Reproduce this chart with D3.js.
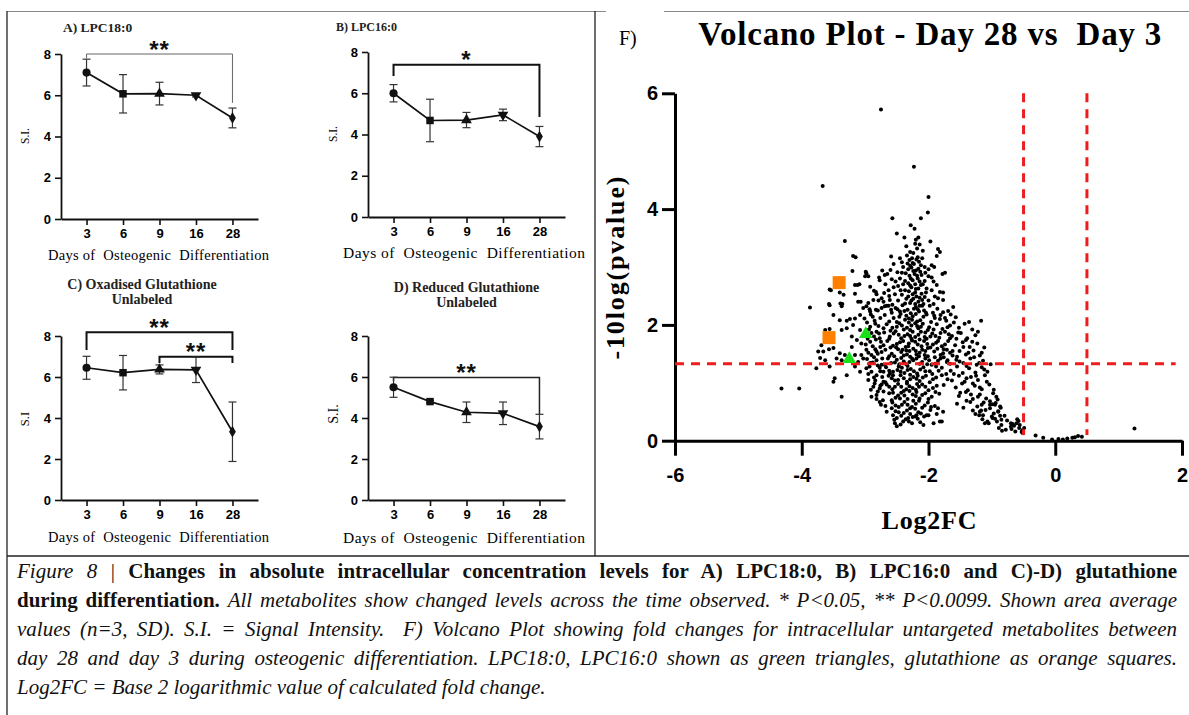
<!DOCTYPE html>
<html>
<head>
<meta charset="UTF-8">
<title>Figure 8</title>
<script src="https://cdnjs.cloudflare.com/ajax/libs/d3/7.8.5/d3.min.js"></script>
<style>
  body { margin: 0; background: #fff; }
  #wrap { position: relative; width: 1189px; height: 715px; overflow: hidden; }
  #chart svg { position: absolute; left: 0; top: 0; }
  .tick text { font-family: "Liberation Sans", Arial, sans-serif; font-weight: bold; fill: #000; }
  .serif { font-family: "Liberation Serif", "Times New Roman", serif; }
  #caption {
    position: absolute; left: 17px; top: 557px; width: 1160px;
    font-family: "Liberation Serif", "Times New Roman", serif;
    font-size: 21px; line-height: 29px; color: #111;
  }
  #caption div { text-align: justify; text-align-last: justify; }
  #caption div.last { text-align-last: left; }
</style>
</head>
<body>
<div id="wrap">
  <div id="chart"></div>
  <div id="caption">
    <div><i>Figure 8</i> | <b>Changes in absolute intracellular concentration levels for A) LPC18:0, B) LPC16:0 and C)-D) glutathione</b></div>
    <div><b>during differentiation.</b> <i>All metabolites show changed levels across the time observed. * P&lt;0.05, ** P&lt;0.0099. Shown area average</i></div>
    <div><i>values (n=3, SD). S.I. = Signal Intensity.&nbsp; F) Volcano Plot showing fold changes for intracellular untargeted metabolites between</i></div>
    <div><i>day 28 and day 3 during osteogenic differentiation. LPC18:0, LPC16:0 shown as green triangles, glutathione as orange squares.</i></div>
    <div class="last"><i>Log2FC = Base 2 logarithmic value of calculated fold change.</i></div>
  </div>
</div>

<script>
// ---- time course data (mean and SD, n=3) ----
var days = ["3", "6", "9", "16", "28"];
var siTicks = [0, 2, 4, 6, 8];

var lpc18Mean = [7.1, 6.07, 6.08, 6.0, 4.9];
var lpc18Sd   = [0.65, 0.93, 0.55, 0.08, 0.48];
var lpc16Mean = [6.0, 4.68, 4.7, 4.95, 3.9];
var lpc16Sd   = [0.42, 1.03, 0.37, 0.28, 0.49];
var gssgMean  = [6.45, 6.21, 6.37, 6.35, 3.33];
var gssgSd    = [0.56, 0.84, 0.22, 0.62, 1.45];
var gshMean   = [5.5, 4.8, 4.28, 4.23, 3.58];
var gshSd     = [0.49, 0.06, 0.5, 0.55, 0.6];

// ---- volcano data: [log2FC, -log10(p)] ----
var lpcPoints = [[-2.99, 1.84], [-3.25, 1.41]];
var glutathionePoints = [[-3.41, 2.73], [-3.57, 1.78]];
var volcanoTicksX = [-6, -4, -2, 0, 2];
var volcanoTicksY = [0, 2, 4, 6];
var fcCutoffs = [-0.5, 0.5];
var pCutoff = 1.33;

var volcanoPoints = [
  // upper part of the cloud
  [-2.75,5.72],[-2.23,4.73],[-3.67,4.40],[-2.00,4.21],[-2.01,3.94],[-2.57,3.84],[-2.12,3.84],[-2.28,3.72],[-2.22,3.66],[-3.32,3.45],
  [-2.50,3.58],[-2.38,3.51],[-2.16,3.51],[-2.20,3.47],[-1.97,3.44],[-2.21,3.40],[-2.14,3.39],[-2.35,3.36],[-2.18,3.32],[-1.85,3.31],
  [-1.82,3.26],[-2.09,3.28],[-2.29,3.26],[-2.24,3.24],[-2.59,3.18],[-1.87,3.19],[-2.17,3.17],[-3.19,3.19],[-3.15,3.17],[-2.30,3.12],
  [-2.42,3.08],[-2.33,3.06],[-2.25,3.07],[-2.15,3.09],[-1.95,3.03],[-2.06,3.00],[-1.91,3.00],[-2.27,2.99],[-2.16,2.97],[-2.32,2.96],
  [-2.20,2.94],[-2.00,2.96],[-2.49,2.91],[-2.42,2.90],[-2.36,2.89],[-2.65,2.88],[-1.74,2.90],[-1.78,2.88],[-2.22,2.88],[-2.11,2.86],
  [-2.00,2.84],[-1.95,2.82],[-2.28,2.80],[-2.17,2.80],[-2.58,2.79],[-2.37,2.76],[-2.06,2.76],[-1.92,2.75],[-2.32,2.72],[-2.21,2.70],
  [-2.12,2.69],[-1.87,2.69],[-2.48,2.67],[-2.27,2.65],[-2.16,2.63],[-2.03,2.63],[-2.63,2.60],[-2.37,2.60],[-1.95,2.60],[-1.82,2.57],
  [-1.77,2.56],[-2.21,2.56],[-2.11,2.54],[-2.53,2.53],[-2.42,2.52],[-2.32,2.49],[-2.19,2.49],[-2.06,2.48],[-1.90,2.49],[-1.85,2.46],
  [-2.61,2.43],[-2.48,2.42],[-2.27,2.42],[-2.16,2.40],[-2.00,2.42],[-1.77,2.43],[-2.37,2.37],[-2.21,2.36],[-2.08,2.36],[-1.92,2.36],
  [-2.26,3.15],[-2.19,3.13],[-2.23,3.05],[-2.12,3.03],[-2.29,3.02],[-2.24,2.93],[-2.13,2.92],[-2.30,2.85],[-2.18,2.85],[-2.25,2.77],
  [-2.14,2.75],[-2.29,2.68],[-2.20,2.62],[-2.31,2.58],[-2.25,2.53],[-2.14,2.47],[-2.35,2.45],[-2.24,2.45],[-2.10,2.43],[-2.29,2.38],
  [-2.14,2.33],[-2.44,2.60],[-2.09,2.70],[-2.04,2.56],[-2.40,2.70],[-2.45,2.80],[-2.05,2.90],[-2.10,3.15],[-2.34,3.20],[-2.40,3.00],
  [-3.20,2.93],[-2.99,2.92],[-3.00,2.84],[-2.95,2.84],[-2.73,2.94],[-2.78,2.82],[-2.77,2.77],[-2.69,2.86],[-3.54,2.60],[-3.40,2.56],
  [-3.34,2.52],[-3.16,2.69],[-3.09,2.70],[-3.16,2.54],[-2.92,2.66],[-2.86,2.59],[-2.82,2.53],[-3.57,2.36],[-3.36,2.36],[-3.11,2.40],
  [-3.07,2.40],[-2.95,2.38],[-2.87,2.43],[-2.79,2.42],[-2.74,2.46],[-2.68,2.70],[-2.62,2.50],[-2.55,2.65],[-2.70,2.55],[-2.57,2.35],
  [-2.66,2.33],[-2.52,2.75],[-2.60,2.95],[-2.55,3.05],[-2.45,3.15],[-3.56,2.61],[-3.39,2.37],[-3.12,2.69],[-2.98,2.89],[-2.83,2.57],
  [-2.71,2.40],
  // left wing
  [-3.87,2.30],[-3.56,2.34],[-3.37,2.32],[-3.50,2.17],[-3.40,2.08],[-3.29,2.07],[-3.24,2.10],[-3.16,2.11],[-3.08,2.17],[-3.03,2.29],
  [-2.98,2.32],[-2.92,2.23],[-2.83,2.26],[-2.74,2.29],[-2.69,2.32],[-3.19,2.00],[-3.29,1.94],[-3.08,1.91],[-2.92,1.97],[-2.82,1.88],
  [-2.71,1.94],[-3.63,1.91],[-3.56,1.93],[-3.37,1.91],[-3.21,1.80],[-3.13,1.74],[-3.06,1.68],[-3.21,1.62],[-2.92,1.71],[-2.77,1.77],
  [-2.71,1.65],[-3.69,1.65],[-3.57,1.58],[-3.74,1.54],[-3.66,1.54],[-3.50,1.60],[-3.40,1.51],[-3.32,1.48],[-3.16,1.48],[-3.06,1.48],
  [-2.98,1.57],[-2.90,1.48],[-2.82,1.54],[-3.71,1.43],[-3.63,1.39],[-3.45,1.42],[-3.37,1.39],[-3.11,1.36],[-3.03,1.42],[-2.92,1.34],
  [-2.82,1.39],[-2.74,1.31],[-3.77,1.25],[-3.56,1.28],[-3.16,1.28],[-3.08,1.19],[-2.98,1.25],[-2.90,1.19],[-2.82,1.13],[-2.71,1.19],
  [-3.48,1.08],[-3.50,1.02],[-3.29,1.13],[-2.95,1.05],[-2.85,0.99],[-2.71,1.02],[-4.32,0.90],[-4.04,0.90],[-2.87,0.93],[-2.77,0.90],
  [-3.37,0.76],[-2.82,0.79],[-2.71,0.85],[-2.77,0.67],[-2.90,0.76],
  [-2.80,2.25],[-2.93,2.27],[-2.76,2.12],[-2.88,2.14],[-3.01,2.11],[-2.84,2.02],[-2.97,2.04],[-2.78,1.85],[-2.90,1.86],[-3.02,1.83],
  [-2.83,1.75],[-2.96,1.76],[-2.76,1.62],[-2.88,1.63],[-2.80,1.50],[-2.95,1.52],[-2.73,1.42],[-2.86,1.44],[-2.80,1.30],[-2.93,1.28],
  [-2.76,1.20],[-2.73,1.10],[-2.86,1.09],[-2.76,0.95],[-2.80,0.85],[-2.72,0.70],[-2.68,0.60],[-2.66,0.50],
  [-2.91,2.18],[-2.85,2.07],[-2.79,1.98],[-2.94,1.92],[-2.86,1.80],[-2.75,1.71],[-2.99,1.66],[-2.84,1.58],[-2.74,1.53],[-2.97,1.41],
  [-2.88,1.35],[-2.77,1.26],[-2.95,1.15],[-2.84,1.04],[-2.74,0.97],[-2.91,0.88],[-2.82,0.72],[-2.75,0.62],
  // main body
  [-2.63,2.33],[-2.49,2.27],[-2.41,2.34],[-2.33,2.26],[-2.20,2.31],[-2.07,2.25],[-1.98,2.33],[-1.86,2.28],[-1.69,2.24],[-1.61,2.31],
  [-2.58,2.21],[-2.28,2.20],[-2.15,2.23],[-1.93,2.21],[-1.77,2.22],
  [-2.69,2.17],[-2.55,2.12],[-2.44,2.19],[-2.37,2.09],[-2.25,2.15],[-2.13,2.08],[-2.03,2.18],[-1.90,2.12],[-1.81,2.17],[-1.72,2.07],
  [-1.57,2.13],[-2.62,2.06],[-2.50,2.05],[-2.18,2.06],[-1.96,2.05],[-1.65,2.18],
  [-2.66,2.01],[-2.57,1.95],[-2.46,2.03],[-2.39,1.92],[-2.27,1.99],[-2.16,1.94],[-2.09,2.02],[-1.99,1.96],[-1.87,2.01],[-1.78,1.93],
  [-1.66,1.99],[-1.52,1.95],[-1.43,2.02],[-1.31,1.92],[-1.17,2.07],[-2.31,2.04],[-2.01,1.91],[-1.60,2.04],
  [-2.70,1.87],[-2.61,1.80],[-2.52,1.89],[-2.43,1.77],[-2.33,1.84],[-2.21,1.79],[-2.12,1.88],[-2.03,1.76],[-1.94,1.85],[-1.83,1.78],
  [-1.74,1.88],[-1.63,1.81],[-1.49,1.86],[-1.39,1.77],[-1.26,1.82],[-2.47,1.83],[-2.27,1.76],[-1.89,1.81],[-1.56,1.76],
  [-2.65,1.72],[-2.56,1.64],[-2.45,1.70],[-2.36,1.62],[-2.26,1.73],[-2.17,1.66],[-2.07,1.72],[-1.97,1.61],[-1.88,1.69],[-1.79,1.63],
  [-1.69,1.72],[-1.58,1.65],[-1.46,1.70],[-1.35,1.62],[-1.23,1.68],[-1.12,1.61],[-2.51,1.61],[-2.11,1.63],[-1.74,1.66],[-1.41,1.74],
  [-2.68,1.57],[-2.58,1.50],[-2.48,1.58],[-2.39,1.47],[-2.30,1.55],[-2.19,1.49],[-2.10,1.57],[-2.01,1.46],[-1.91,1.54],[-1.81,1.48],
  [-1.71,1.57],[-1.62,1.47],[-1.51,1.55],[-1.41,1.49],[-1.29,1.56],[-1.19,1.47],[-2.62,1.46],[-2.24,1.59],[-1.86,1.59],[-1.55,1.45],
  [-2.64,1.42],[-2.53,1.35],[-2.43,1.43],[-2.35,1.32],[-2.24,1.39],[-2.14,1.33],[-2.05,1.42],[-1.95,1.31],[-1.85,1.38],[-1.76,1.44],
  [-1.66,1.33],[-1.56,1.40],[-1.45,1.34],[-1.34,1.42],[-1.24,1.31],[-1.14,1.38],[-1.02,1.32],[-2.69,1.31],[-2.29,1.45],[-1.90,1.44],
  [-2.67,1.27],[-2.56,1.19],[-2.47,1.28],[-2.38,1.17],[-2.28,1.24],[-2.18,1.16],[-2.08,1.27],[-1.98,1.20],[-1.88,1.28],[-1.65,1.21],
  [-1.55,1.28],[-1.46,1.17],[-1.36,1.25],[-1.26,1.18],[-1.16,1.27],[-1.07,1.19],[-2.61,1.16],[-2.33,1.29],[-1.94,1.15],
  [-2.63,1.12],[-2.53,1.04],[-2.44,1.13],[-2.34,1.02],[-2.24,1.10],[-2.14,1.03],[-2.04,1.12],[-1.93,1.06],[-1.79,1.13],[-1.63,1.04],
  [-1.52,1.12],[-1.43,1.02],[-1.33,1.10],[-1.22,1.05],[-1.11,1.13],[-2.68,1.01],[-2.29,1.14],[-1.98,1.01],
  [-2.66,0.97],[-2.57,0.89],[-2.48,0.98],[-2.39,0.86],[-2.30,0.94],[-2.20,0.88],[-2.10,0.97],[-2.00,0.87],[-1.87,0.95],[-1.57,0.92],
  [-1.47,0.99],[-1.38,0.87],[-1.27,0.95],[-1.16,0.89],[-1.04,0.97],[-0.97,0.88],[-2.43,0.93],[-2.15,0.93],
  [-2.62,0.82],[-2.52,0.74],[-2.43,0.83],[-2.33,0.72],[-2.25,0.80],[-2.14,0.73],[-2.05,0.82],[-1.95,0.76],[-1.83,0.81],[-1.52,0.77],
  [-1.41,0.84],[-1.30,0.72],[-1.19,0.80],[-1.09,0.73],[-0.98,0.82],[-0.91,0.71],[-2.58,0.70],[-2.38,0.78],[-2.19,0.84],
  [-2.57,0.66],[-2.47,0.58],[-2.38,0.67],[-2.29,0.56],[-2.20,0.64],[-2.10,0.57],[-2.01,0.66],[-1.90,0.60],[-1.55,0.64],[-1.45,0.57],
  [-1.34,0.67],[-1.23,0.59],[-1.13,0.66],[-1.03,0.56],[-0.94,0.65],[-0.86,0.57],[-2.33,0.62],[-2.15,0.69],
  [-2.52,0.51],[-2.43,0.43],[-2.34,0.52],[-2.25,0.41],[-2.16,0.49],[-2.07,0.42],[-1.97,0.53],[-1.87,0.46],[-1.30,0.52],[-1.20,0.44],
  [-1.10,0.53],[-1.00,0.42],[-0.90,0.50],[-0.80,0.43],[-2.29,0.46],
  [-2.54,0.36],[-2.44,0.28],[-2.36,0.37],[-2.26,0.30],[-2.17,0.38],[-2.08,0.27],[-1.15,0.37],[-1.05,0.30],[-0.95,0.38],[-0.85,0.27],
  [-0.76,0.35],[-0.67,0.29],[-0.60,0.37],[-2.50,0.25],
  [-0.89,0.22],[-0.78,0.19],[-0.70,0.24],[-0.63,0.16],[-0.57,0.22],[-0.51,0.13],
  // denser core and lower blob
  [-2.52,2.29],[-2.38,2.24],[-2.23,2.28],[-2.10,2.33],[-2.46,2.14],[-2.31,2.11],[-2.20,2.19],[-2.08,2.14],[-2.42,1.99],[-2.34,1.95],
  [-2.21,2.03],[-2.12,1.97],[-2.55,1.85],[-2.38,1.81],[-2.25,1.88],[-2.16,1.83],[-2.06,1.79],[-2.50,1.67],[-2.31,1.68],[-2.21,1.71],
  [-2.02,1.67],[-2.43,1.53],[-2.35,1.56],[-2.14,1.52],[-2.05,1.55],[-2.50,1.40],[-2.39,1.37],[-2.19,1.42],[-2.10,1.36],[-1.99,1.39],
  [-2.49,1.22],[-2.42,1.26],[-2.23,1.20],[-2.13,1.23],[-2.58,1.08],[-2.39,1.08],[-2.19,1.07],[-2.09,1.09],[-2.53,0.93],[-2.34,0.99],
  [-2.25,0.91],[-2.05,0.93],[-2.48,0.78],[-2.30,0.86],[-2.10,0.79],[-2.00,0.72],[-2.42,0.62],[-2.24,0.69],[-2.06,0.61],[-2.39,0.48],
  [-2.21,0.55],[-2.12,0.47],[-2.31,0.33],[-2.21,0.42],
  [-2.59,2.26],[-2.45,2.23],[-2.35,2.16],[-2.26,2.09],[-2.17,2.27],[-2.04,2.21],[-1.91,2.16],[-1.74,2.12],[-2.60,1.90],[-2.50,1.97],
  [-2.29,1.91],[-2.18,1.98],[-2.05,1.87],[-1.92,1.92],[-1.81,1.86],[-2.62,1.76],[-2.40,1.72],[-2.29,1.81],[-2.14,1.75],[-1.97,1.80],
  [-1.85,1.72],[-1.66,1.77],[-2.60,1.61],[-2.41,1.57],[-2.32,1.63],[-2.20,1.55],[-2.01,1.60],[-1.93,1.66],[-1.76,1.58],[-1.66,1.52],
  [-2.54,1.46],[-2.34,1.49],[-2.26,1.42],[-2.15,1.46],[-2.06,1.48],[-1.81,1.42],[-1.70,1.39],[-2.59,1.34],[-2.46,1.32],[-2.30,1.36],
  [-2.02,1.32],[-1.89,1.33],[-1.79,1.26],[-2.62,1.21],[-2.44,1.19],[-2.33,1.22],[-2.05,1.20],[-1.84,1.21],[-1.72,1.15],[-2.56,1.13],
  [-2.48,1.05],[-2.29,1.06],[-2.17,1.12],[-1.88,1.09],[-1.70,1.06],[-2.62,0.93],[-2.35,0.89],[-2.18,0.98],[-1.93,0.91],[-1.76,0.96],
  [-2.56,0.83],[-2.45,0.73],[-2.20,0.77],[-1.89,0.84],[-2.52,0.61],[-2.26,0.58],[-1.96,0.58],[-2.47,0.49],[-2.19,0.44],[-2.40,0.33],
  [-2.13,0.32],
  [-1.82,2.10],[-1.70,1.96],[-1.53,1.87],[-1.68,1.84],[-1.45,1.62],[-1.62,1.55],[-1.37,1.52],[-1.77,1.51],[-1.51,1.37],[-1.71,1.36],
  [-1.40,1.29],[-1.60,1.15],[-1.40,1.08],[-1.30,0.99],[-1.50,0.83],[-1.22,0.76],[-1.40,0.69],[-1.17,0.52],[-0.97,0.47],
  [-1.36,2.05],[-1.22,1.88],[-1.31,1.71],[-1.16,1.52],[-1.28,1.44],[-1.20,1.34],[-1.12,1.23],[-1.25,1.12],[-1.08,1.02],[-1.19,0.92],
  [-1.33,0.80],[-1.03,0.68],[-1.16,0.62],[-1.26,0.46],[-0.92,0.33],
  [-1.85,0.56],[-1.77,0.50],[-1.92,0.30],[-1.82,0.33],[-2.00,0.44],[-2.53,0.30],[-2.56,0.44],[-2.58,0.56],[-2.50,0.39],[-2.32,0.39],
  [-2.03,0.44],[-1.79,0.33],
  // tail towards zero
  [-0.52,0.18],[-0.49,0.22],[-0.58,0.34],[-0.61,0.30],[-0.65,0.26],[-0.70,0.30],[-0.69,0.20],[-0.84,0.17],[-0.85,0.36],[-0.87,0.43],
  [-0.90,0.51],[-0.87,0.59],[-0.93,0.76],[-0.99,0.63],[-1.03,0.62],[-0.95,0.62],[-0.99,0.39],[-1.07,0.33],[-1.11,0.30],[-1.14,0.44],
  [-1.19,0.50],[-0.53,0.15],[-0.56,0.27],
  [-0.31,0.09],[-0.19,0.05],[-0.05,0.02],[0.05,0.03],[0.12,0.02],[0.19,0.04],[0.27,0.05],[0.31,0.06],[0.36,0.08],[0.42,0.07],[1.25,0.21]
];

var svg = d3.select("#chart").append("svg")
    .attr("width", 1189)
    .attr("height", 715);

// frame lines round the figure
var frame = svg.append("g").attr("fill", "none");
frame.append("line").attr("x1", 7).attr("y1", 11.5).attr("x2", 606).attr("y2", 11.5).attr("stroke", "#8a8a8a").attr("stroke-width", 1.2);
frame.append("line").attr("x1", 664).attr("y1", 11.5).attr("x2", 1189).attr("y2", 11.5).attr("stroke", "#8a8a8a").attr("stroke-width", 1.2);
frame.append("line").attr("x1", 7).attr("y1", 11).attr("x2", 7).attr("y2", 715).attr("stroke", "#222").attr("stroke-width", 1.3);
frame.append("line").attr("x1", 595).attr("y1", 11).attr("x2", 595).attr("y2", 556).attr("stroke", "#222").attr("stroke-width", 1.3);
frame.append("line").attr("x1", 7).attr("y1", 556).attr("x2", 1189).attr("y2", 556).attr("stroke", "#222").attr("stroke-width", 1.3);

// ---------- small time-course panels ----------
var markerTypes = [d3.symbolCircle, d3.symbolSquare, d3.symbolTriangle, d3.symbolTriangle, d3.symbolDiamond];
var markerSizes = [52, 56, 50, 50, 40];
var markerRotate = [0, 0, 0, 180, 0];

var panels = [
    {mean: lpc18Mean, sd: lpc18Sd, x0: 61, x1: 258, yTop: 54, yBot: 219,
     title: ["A) LPC18:0"], titleX: 63, titleY: 31.5, titleAnchor: "start", titleSize: 13.5,
     si: "S.I.", siX: 25, siY: 136, siSize: 11.5, xTitleX: 158.5, xTitleY: 255, xTitleLen: 221, xTitleSize: 14.5,
     brackets: [{from: "3", to: "28", level: 8, left: 7.8, right: 5.63, label: "**", width: 1, color: "#666"}]},
    {mean: lpc16Mean, sd: lpc16Sd, x0: 368, x1: 565, yTop: 52, yBot: 217,
     title: ["B) LPC16:0"], titleX: 336, titleY: 30.5, titleAnchor: "start", titleSize: 12,
     si: "S.I.", siX: 333, siY: 134, siSize: 11.5, xTitleX: 464, xTitleY: 252, xTitleLen: 242, xTitleSize: 15.5,
     brackets: [{from: "3", to: "28", level: 7.38, left: 6.84, right: 4.85, label: "*", width: 2, color: "#111"}]},
    {mean: gssgMean, sd: gssgSd, x0: 61, x1: 258, yTop: 336, yBot: 500,
     title: ["C) Oxadised Glutathione", "Unlabeled"], titleX: 142, titleY: 289, titleAnchor: "middle", titleSize: 14,
     si: "S.I", siX: 25, siY: 419, siSize: 12.5, xTitleX: 158.5, xTitleY: 537, xTitleLen: 221, xTitleSize: 14.5,
     brackets: [{from: "3", to: "28", level: 8.18, left: 7.32, right: 7.32, label: "**", width: 2, color: "#111"},
                {from: "9", to: "28", level: 6.99, left: 6.68, right: 6.68, label: "**", width: 2, color: "#111"}]},
    {mean: gshMean, sd: gshSd, x0: 368, x1: 565, yTop: 336, yBot: 500,
     title: ["D) Reduced Glutathione", "Unlabeled"], titleX: 466.5, titleY: 291.5, titleAnchor: "middle", titleSize: 14,
     si: "S.I.", siX: 333, siY: 414, siSize: 14, xTitleX: 464, xTitleY: 537, xTitleLen: 242, xTitleSize: 15.5,
     brackets: [{from: "3", to: "28", level: 5.97, left: 5.8, right: 4.2, label: "**", width: 1.5, color: "#222"}]}
];

function drawPanel(p) {
    var x = d3.scalePoint().domain(days).range([p.x0, p.x1]).padding(0.7);
    var y = d3.scaleLinear().domain([0, 8]).range([p.yBot, p.yTop]);
    var g = svg.append("g");

    var xAxis = g.append("g")
        .attr("transform", "translate(0," + p.yBot + ")")
        .call(d3.axisBottom(x).tickSize(6).tickSizeOuter(0).tickPadding(4));
    var yAxis = g.append("g")
        .attr("transform", "translate(" + p.x0 + ",0)")
        .call(d3.axisLeft(y).tickValues(siTicks).tickSize(6).tickSizeOuter(0).tickPadding(4));
    [xAxis, yAxis].forEach(function (a) {
        a.select(".domain").attr("stroke", "#111").attr("stroke-width", 1.8);
        a.selectAll(".tick line").attr("stroke", "#111").attr("stroke-width", 1.6);
        a.selectAll(".tick text").attr("font-size", 13);
    });

    // significance brackets
    p.brackets.forEach(function (b) {
        var xa = x(b.from), xb = x(b.to);
        g.append("path")
            .attr("d", "M" + xa + "," + y(b.left) + "V" + y(b.level) + "H" + xb + "V" + y(b.right))
            .attr("fill", "none")
            .attr("stroke", b.color)
            .attr("stroke-width", b.width);
        g.append("text")
            .attr("x", (xa + xb) / 2)
            .attr("y", y(b.level) - 10 + 13.5)
            .attr("text-anchor", "middle")
            .attr("font-family", "Liberation Sans, Arial, sans-serif")
            .attr("font-weight", "bold")
            .attr("font-size", 24)
            .attr("letter-spacing", 1)
            .attr("fill", "#111")
            .text(b.label);
    });

    // error bars
    var eb = g.append("g").attr("stroke", "#333").attr("stroke-width", 1.2);
    days.forEach(function (d, i) {
        var cx = x(d), lo = y(p.mean[i] - p.sd[i]), hi = y(p.mean[i] + p.sd[i]);
        eb.append("line").attr("x1", cx).attr("x2", cx).attr("y1", lo).attr("y2", hi);
        eb.append("line").attr("x1", cx - 4).attr("x2", cx + 4).attr("y1", lo).attr("y2", lo);
        eb.append("line").attr("x1", cx - 4).attr("x2", cx + 4).attr("y1", hi).attr("y2", hi);
    });

    // mean line
    var line = d3.line()
        .x(function (d, i) { return x(days[i]); })
        .y(function (d) { return y(d); });
    g.append("path")
        .datum(p.mean)
        .attr("d", line)
        .attr("fill", "none")
        .attr("stroke", "#111")
        .attr("stroke-width", 1.7);

    g.selectAll(".marker")
        .data(p.mean)
        .enter().append("path")
        .attr("class", "marker")
        .attr("d", function (d, i) { return d3.symbol().type(markerTypes[i]).size(markerSizes[i])(); })
        .attr("transform", function (d, i) {
            return "translate(" + x(days[i]) + "," + y(d) + ") rotate(" + markerRotate[i] + ")";
        })
        .attr("fill", "#111");

    // titles
    var t = g.append("text")
        .attr("class", "serif")
        .attr("font-weight", "bold")
        .attr("font-size", p.titleSize)
        .attr("text-anchor", p.titleAnchor)
        .attr("fill", "#222");
    p.title.forEach(function (s, i) {
        t.append("tspan").attr("x", p.titleX).attr("y", p.titleY + i * 15.3).text(s);
    });

    g.append("text")
        .attr("class", "serif")
        .attr("transform", "translate(" + p.siX + "," + p.siY + ") rotate(-90)")
        .attr("text-anchor", "middle")
        .attr("dominant-baseline", "central")
        .attr("font-size", p.siSize)
        .text(p.si);

    g.append("text")
        .attr("class", "serif")
        .attr("x", p.xTitleX)
        .attr("y", p.xTitleY)
        .attr("text-anchor", "middle")
        .attr("dominant-baseline", "central")
        .attr("font-size", p.xTitleSize)
        .attr("textLength", p.xTitleLen)
        .attr("lengthAdjust", "spacing")
        .style("white-space", "pre")
        .text("Days of  Osteogenic  Differentiation");
}

panels.forEach(drawPanel);

// ---------- volcano plot ----------
var xV = d3.scaleLinear().domain([-6, 2]).range([675, 1182]);
var yV = d3.scaleLinear().domain([0, 6]).range([440.7, 93.3]);
var vg = svg.append("g");

var vx = vg.append("g")
    .attr("transform", "translate(0," + yV(0) + ")")
    .call(d3.axisBottom(xV).tickValues(volcanoTicksX).tickSize(15).tickSizeOuter(0).tickPadding(12)
        .tickFormat(function (d) { return String(d); }));
var vy = vg.append("g")
    .attr("transform", "translate(" + xV(-6) + ",0)")
    .call(d3.axisLeft(yV).tickValues(volcanoTicksY).tickSize(13).tickSizeOuter(0).tickPadding(4)
        .tickFormat(function (d) { return String(d); }));
[vx, vy].forEach(function (a) {
    a.select(".domain").attr("stroke", "#000").attr("stroke-width", 3);
    a.selectAll(".tick line").attr("stroke", "#000").attr("stroke-width", 3);
    a.selectAll(".tick text").attr("font-size", 20);
});

vg.append("g")
    .selectAll("circle")
    .data(volcanoPoints)
    .enter().append("circle")
    .attr("cx", function (d) { return xV(d[0]); })
    .attr("cy", function (d) { return yV(d[1]); })
    .attr("r", 2)
    .attr("fill", "#000");

// cut-off lines
var cut = vg.append("g")
    .attr("stroke", "#ee1c1c")
    .attr("stroke-width", 3)
    .attr("stroke-dasharray", "9,7")
    .attr("fill", "none");
fcCutoffs.forEach(function (c) {
    cut.append("line").attr("x1", xV(c)).attr("x2", xV(c)).attr("y1", yV(6)).attr("y2", yV(0.1));
});
cut.append("line").attr("x1", xV(-6)).attr("x2", xV(1.9)).attr("y1", yV(pCutoff)).attr("y2", yV(pCutoff));

vg.append("g")
    .selectAll("rect")
    .data(glutathionePoints)
    .enter().append("rect")
    .attr("x", function (d) { return xV(d[0]) - 6.5; })
    .attr("y", function (d) { return yV(d[1]) - 6.5; })
    .attr("width", 13)
    .attr("height", 13)
    .attr("fill", "#ff8000");

vg.append("g")
    .selectAll("path")
    .data(lpcPoints)
    .enter().append("path")
    .attr("d", d3.symbol().type(d3.symbolTriangle).size(80))
    .attr("transform", function (d) { return "translate(" + xV(d[0]) + "," + yV(d[1]) + ")"; })
    .attr("fill", "#19e019");

vg.append("text")
    .attr("class", "serif")
    .attr("x", 929.8).attr("y", 45)
    .attr("text-anchor", "middle")
    .attr("font-weight", "bold")
    .attr("font-size", 33)
    .attr("textLength", 463)
    .attr("lengthAdjust", "spacing")
    .style("white-space", "pre")
    .text("Volcano Plot - Day 28 vs  Day 3");

vg.append("text")
    .attr("class", "serif")
    .attr("x", 619).attr("y", 45)
    .attr("font-size", 20)
    .text("F)");

vg.append("text")
    .attr("class", "serif")
    .attr("x", 929).attr("y", 529)
    .attr("text-anchor", "middle")
    .attr("font-weight", "bold")
    .attr("font-size", 26)
    .attr("textLength", 95)
    .attr("lengthAdjust", "spacing")
    .text("Log2FC");

vg.append("text")
    .attr("class", "serif")
    .attr("transform", "translate(615,268) rotate(-90)")
    .attr("text-anchor", "middle")
    .attr("dominant-baseline", "central")
    .attr("font-weight", "bold")
    .attr("font-size", 26)
    .attr("textLength", 183)
    .attr("lengthAdjust", "spacing")
    .text("-10log(pvalue)");
</script>
</body>
</html>
